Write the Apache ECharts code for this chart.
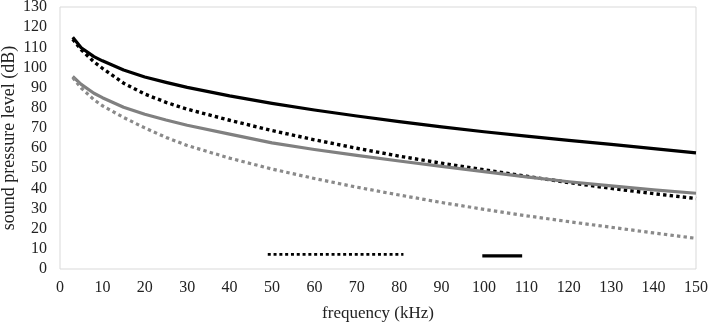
<!DOCTYPE html>
<html>
<head>
<meta charset="utf-8">
<script src="https://cdn.jsdelivr.net/npm/echarts@6/dist/echarts.min.js"></script>
<style>html,body{margin:0;padding:0;background:#fff}#c{width:709px;height:324px}</style>
</head>
<body>
<div id="c"></div>
<script>
// frequency (kHz)
var freq = [3, 5, 8, 10, 15, 20, 25, 30, 40, 50, 60, 70, 80, 90, 100, 110, 120, 130, 140, 150];
// sound pressure level (dB)
var blackSolid  = [115, 109.8, 105.4, 103.3, 98.7, 95.3, 92.6, 90.1, 85.9, 82.2, 78.9, 75.9, 73.1, 70.5, 68.1, 65.9, 63.8, 61.8, 59.7, 57.6];
var blackDotted = [114, 108.8, 102.8, 99.6, 92.2, 86.8, 82.7, 79.3, 73.8, 68.7, 64.1, 59.9, 56.0, 52.5, 49.2, 46.0, 42.9, 40.0, 37.4, 35.0];
var greySolid   = [95.5, 91.6, 87.2, 85.0, 80.3, 76.8, 73.9, 71.3, 66.9, 62.6, 59.3, 56.4, 53.6, 50.9, 48.3, 45.7, 43.3, 41.2, 39.3, 37.6];
var greyDotted  = [95, 89.8, 84.0, 81.0, 75.2, 70.0, 65.3, 61.3, 55.0, 49.6, 44.9, 40.6, 36.7, 33.0, 29.6, 26.4, 23.5, 20.7, 17.9, 15.2];
// range bars near the bottom
var rangeDottedX = [49, 81];
var rangeDottedY = [7.3, 7.3];
var rangeSolidX  = [99.6, 109];
var rangeSolidY  = [6.5, 6.5];
// ticks
var xTicks = [0, 150, 10];
var yTicks = [0, 130, 10];

function pairs(xs, ys) { return xs.map(function (x, i) { return [x, ys[i]]; }); }

var font = "'Liberation Serif', 'DejaVu Serif', serif";
var chart = echarts.init(document.getElementById('c'));
function curve(data, color, dashed, width) {
  return {
    type: 'line', data: data, showSymbol: false, symbol: 'none',
    smooth: false, silent: true,
    lineStyle: { color: color, width: width, type: dashed ? [3.4, 3.2] : 'solid', cap: 'butt', join: 'round' }
  };
}
chart.setOption({
  animation: false,
  backgroundColor: '#fff',
  grid: { left: 60, right: 13, top: 7, bottom: 55, show: true, borderColor: '#d9d9d9', borderWidth: 1,
          containLabel: false, outerBoundsMode: 'none' },
  xAxis: {
    type: 'value', min: xTicks[0], max: xTicks[1], interval: xTicks[2],
    name: 'frequency (kHz)', nameLocation: 'middle', nameGap: 36, nameMoveOverlap: false,
    nameTextStyle: { fontFamily: font, fontSize: 17, color: '#222' },
    axisLine: { show: false }, axisTick: { show: false }, splitLine: { show: false },
    axisLabel: { fontFamily: font, fontSize: 16, color: '#222', margin: 11 }
  },
  yAxis: {
    type: 'value', min: yTicks[0], max: yTicks[1], interval: yTicks[2],
    name: 'sound pressure level (dB)', nameLocation: 'middle', nameGap: 42, nameRotate: 90,
    nameMoveOverlap: false,
    nameTextStyle: { fontFamily: font, fontSize: 18, color: '#222' },
    axisLine: { show: false }, axisTick: { show: false }, splitLine: { show: false },
    axisLabel: { fontFamily: font, fontSize: 16, color: '#222', margin: 13 }
  },
  series: [
    curve(pairs(freq, blackSolid), '#000', false, 3.2),
    curve(pairs(freq, blackDotted), '#000', true, 3.4),
    curve(pairs(freq, greySolid), '#808080', false, 3.2),
    curve(pairs(freq, greyDotted), '#8a8a8a', true, 3.2),
    { type: 'line', data: pairs(rangeDottedX, rangeDottedY), symbol: 'none', silent: true,
      lineStyle: { color: '#000', width: 2.8, type: [3, 2.8], cap: 'butt' } },
    { type: 'line', data: pairs(rangeSolidX, rangeSolidY), symbol: 'none', silent: true,
      lineStyle: { color: '#000', width: 3.2, cap: 'butt' } }
  ]
});
</script>
</body>
</html>
